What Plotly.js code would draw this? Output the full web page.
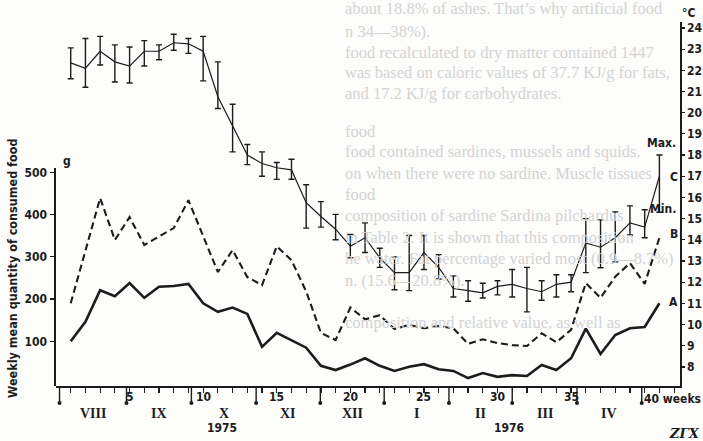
<!DOCTYPE html>
<html>
<head>
<meta charset="utf-8">
<script src="https://cdn.plot.ly/plotly-3.0.1.min.js"></script>
<style>
  html, body { margin: 0; padding: 0; background: #fdfdfc; }
  #chart { width: 703px; height: 441px; }
</style>
</head>
<body>
<div id="chart"></div>
<script>
// Week numbers since the start of observations (August 1975)
const weeks = [1,2,3,4,5,6,7,8,9,10,11,12,13,14,15,16,17,18,19,20,
               21,22,23,24,25,26,27,28,29,30,31,32,33,34,35,36,37,38,39,40,41];

// Curve C: weekly mean water temperature (°C) with weekly max / min
const tempMean = [22.35,22.1,22.9,22.4,22.2,22.9,22.9,23.3,23.25,22.9,
                  20.75,19.4,18.0,17.6,17.4,17.3,15.75,15.1,14.5,13.7,
                  14.1,13.15,12.45,12.45,13.4,12.7,11.7,11.6,11.5,11.8,
                  11.9,11.7,11.55,11.9,12.0,13.85,13.65,14.1,14.8,14.6,17.0];
const tempMax  = [23.06,23.5,23.6,23.2,23.1,23.4,23.2,23.7,23.5,23.6,
                  22.4,20.4,18.5,18.15,17.65,17.8,16.6,15.8,15.2,14.25,
                  14.8,13.6,13.2,14.2,14.2,13.3,12.3,12.07,11.95,12.07,
                  12.6,12.7,12.07,12.35,12.35,15.0,14.94,15.32,15.6,15.42,18.0];
const tempMin  = [21.6,21.2,22.25,21.45,21.4,22.2,22.5,22.95,22.8,21.5,
                  20.2,18.15,17.55,17.0,16.85,16.86,14.55,14.6,14.0,13.15,
                  13.4,12.7,11.64,11.6,12.6,12.15,11.3,11.1,11.25,11.4,
                  11.3,10.6,11.15,11.3,11.55,12.45,12.68,12.96,14.23,14.1,15.3];

// Curve A (solid) and curve B (dashed): weekly mean quantity of consumed food, g
const foodA = [100,146,221,207,238,203,229,231,236,190,
               170,180,165,87,120,103,85,42,32,45,
               60,42,30,40,46,34,30,13,25,16,
               20,18,44,32,60,130,70,115,131,134,190];
const foodB = [190,315,439,340,394,328,347,368,434,349,
               264,316,252,233,325,292,218,120,103,180,
               152,162,129,139,131,136,131,94,105,96,
               91,89,119,98,127,238,203,253,285,236,345];

// Axis ticks and calendar labels
const tickWeeks   = [1,2,3,4,5,6,7,8,9,10,11,12,13,14,15,16,17,18,19,20,21,
                     22,23,24,25,26,27,28,29,30,31,32,33,34,35,36,37,38,39,40,41,42];
const weekLabels  = [5,10,15,20,25,30,35];
const foodTicks   = [100,200,300,400,500];
const tempTicks   = [8,9,10,11,12,13,14,15,16,17,18,19,20,21,22,23,24];
const monthStarts = [0.24,4.79,9.2,13.6,17.96,22.3,26.7,31.0,35.4,39.8];
const monthNames  = ['VIII','IX','X','XI','XII','I','II','III','IV'];
const years       = [{label:'1975', week:11.3}, {label:'1976', week:30.8}];

// Faint lines of the facing page showing through the paper
const pageLines = [
  'about 18.8% of ashes. That\u2019s why artificial food',
  'n 34\u201438%).',
  'food recalculated to dry matter contained 1447',
  'was based on caloric values of 37.7 KJ/g for fats,',
  'and 17.2 KJ/g for carbohydrates.',
  'food',
  'food contained sardines, mussels and squids.',
  'on when there were no sardine. Muscle tissues',
  'food',
  'composition of sardine Sardina pilchardus',
  'in Table 2. It is shown that this composition',
  'he water. Fat percentage varied most (0.9\u20148.7%)',
  'n. (15.6\u201420.8%).',
  'composition and relative value, as well as'
];
const pageRowsY = [9,31,52,73,94,131,152,173,194,215,237,258,280,322];

// ---- geometry helpers (pixel -> paper) ----
const W = 703, H = 441, M = {l: 56, r: 23, t: 22, b: 55};
const PW = W - M.l - M.r, PH = H - M.t - M.b;
const px = x => (x - M.l) / PW;
const py = y => (H - M.b - y) / PH;

const ink = '#1c1c1c';
const numFont = {family: 'DejaVu Sans Condensed, DejaVu Sans, sans-serif', size: 12, color: ink, weight: 'bold'};
const romanFont = {family: 'Liberation Serif, DejaVu Serif, serif', size: 14, color: ink, weight: 'bold'};

const errPlus  = tempMax.map((v, i) => +(v - tempMean[i]).toFixed(3));
const errMinus = tempMin.map((v, i) => +(tempMean[i] - v).toFixed(3));

const traces = [
  {
    x: weeks, y: tempMean, xaxis: 'x', yaxis: 'y', mode: 'lines',
    line: {color: ink, width: 1.2},
    error_y: {type: 'data', symmetric: false, array: errPlus, arrayminus: errMinus,
              color: ink, thickness: 1.4, width: 3},
    hoverinfo: 'skip'
  },
  {
    x: weeks, y: foodA, xaxis: 'x', yaxis: 'y2', mode: 'lines',
    line: {color: ink, width: 2.6}, hoverinfo: 'skip'
  },
  {
    x: weeks, y: foodB, xaxis: 'x', yaxis: 'y2', mode: 'lines',
    line: {color: ink, width: 2.1, dash: '7px,4px'}, hoverinfo: 'skip'
  }
];

const annotations = [];
pageLines.forEach((t, i) => {
  annotations.push({xref: 'paper', yref: 'paper', x: px(343), y: py(pageRowsY[i]),
    xanchor: 'left', yanchor: 'middle', showarrow: false, text: t,
    font: {family: 'Liberation Serif, DejaVu Serif, serif', size: 16.5, color: '#d3d3d3'}});
});

// week numbers under the axis
weekLabels.forEach(w => annotations.push({xref: 'x', yref: 'paper', x: w, y: py(397),
  xanchor: 'center', yanchor: 'middle', showarrow: false, text: String(w), font: numFont}));
annotations.push({xref: 'x', yref: 'paper', x: 39.8, y: py(399), xanchor: 'left', yanchor: 'middle',
  showarrow: false, text: '40 weeks', font: numFont});

// month names centred between month boundaries
monthNames.forEach((m, i) => annotations.push({xref: 'x', yref: 'paper',
  x: (monthStarts[i] + monthStarts[i + 1]) / 2, y: py(413), xanchor: 'center', yanchor: 'middle',
  showarrow: false, text: m, font: romanFont}));
years.forEach(yr => annotations.push({xref: 'x', yref: 'paper', x: yr.week, y: py(428),
  xanchor: 'center', yanchor: 'middle', showarrow: false, text: yr.label, font: numFont}));

// units, curve names and axis title
annotations.push(
  {xref: 'paper', yref: 'paper', x: px(61), y: py(161), xanchor: 'left', yanchor: 'middle',
   showarrow: false, text: 'g', font: numFont},
  {xref: 'paper', yref: 'paper', x: px(688), y: py(13), xanchor: 'center', yanchor: 'middle',
   showarrow: false, text: '\u00b0C', font: numFont},
  {xref: 'paper', yref: 'paper', x: px(12), y: py(268), xanchor: 'center', yanchor: 'middle',
   showarrow: false, textangle: -90, text: 'Weekly mean quantity of consumed food',
   font: {family: 'DejaVu Sans Condensed, DejaVu Sans, sans-serif', size: 12.5, color: ink, weight: 'bold'}},
  {xref: 'paper', yref: 'y', x: px(678), y: tempMax[40] + 0.15, xanchor: 'right', yanchor: 'bottom',
   showarrow: false, text: 'Max.', font: numFont},
  {xref: 'paper', yref: 'y', x: px(678), y: tempMin[40] + 0.15, xanchor: 'right', yanchor: 'middle',
   showarrow: false, text: 'Min.', font: numFont},
  {xref: 'paper', yref: 'y', x: px(668), y: tempMean[40] - 0.05, xanchor: 'left', yanchor: 'middle',
   showarrow: false, text: 'C', font: numFont},
  {xref: 'paper', yref: 'y2', x: px(668), y: foodB[40] + 8, xanchor: 'left', yanchor: 'middle',
   showarrow: false, text: 'B', font: numFont},
  {xref: 'paper', yref: 'y2', x: px(667), y: foodA[40] + 2, xanchor: 'left', yanchor: 'middle',
   showarrow: false, text: 'A', font: numFont},
  {xref: 'paper', yref: 'paper', x: px(702), y: py(433), xanchor: 'right', yanchor: 'middle',
   showarrow: false, text: '<i>Z\u0393X</i>', font: {family: 'DejaVu Serif, serif', size: 13, color: ink, weight: 'bold'}}
);

// month boundary marks: long ticks ending in a dot
const shapes = [];
monthStarts.forEach(d => {
  shapes.push({type: 'line', xref: 'x', yref: 'paper', x0: d, x1: d, y0: 0, y1: py(403),
               line: {color: ink, width: 1.4}});
  shapes.push({type: 'circle', xref: 'x', yref: 'paper', xsizemode: 'pixel', ysizemode: 'pixel',
               xanchor: d, yanchor: py(403), x0: -2, x1: 2, y0: -2, y1: 2,
               fillcolor: ink, line: {color: ink, width: 0}});
});

const layout = {
  width: W, height: H, margin: M,
  paper_bgcolor: '#fdfdfc', plot_bgcolor: 'rgba(0,0,0,0)',
  showlegend: false,
  xaxis: {
    range: [0, 42.4], anchor: 'y',
    tickvals: tickWeeks, ticktext: tickWeeks.map(() => ''),
    ticks: 'outside', ticklen: 5, tickwidth: 1.2, tickcolor: ink,
    showline: true, linecolor: ink, linewidth: 1.6,
    showgrid: false, zeroline: false, fixedrange: true
  },
  yaxis: {
    range: [7.1, 24.28], side: 'right', anchor: 'x',
    tickvals: tempTicks, ticks: 'outside', ticklen: 3, tickwidth: 1.2, tickcolor: ink,
    showline: true, linecolor: ink, linewidth: 1.6,
    showgrid: false, zeroline: false, tickfont: numFont, ticklabelstandoff: 0
  },
  yaxis2: {
    domain: [0, 0.599], range: [-5.7, 510.3], side: 'left', anchor: 'x',
    tickvals: foodTicks, ticks: 'outside', ticklen: 4, tickwidth: 1.2, tickcolor: ink,
    showline: true, linecolor: ink, linewidth: 1.6,
    showgrid: false, zeroline: false, tickfont: numFont, ticklabelstandoff: 1
  },
  annotations: annotations,
  shapes: shapes
};

Plotly.newPlot('chart', traces, layout, {staticPlot: true, displayModeBar: false});
</script>
</body>
</html>
